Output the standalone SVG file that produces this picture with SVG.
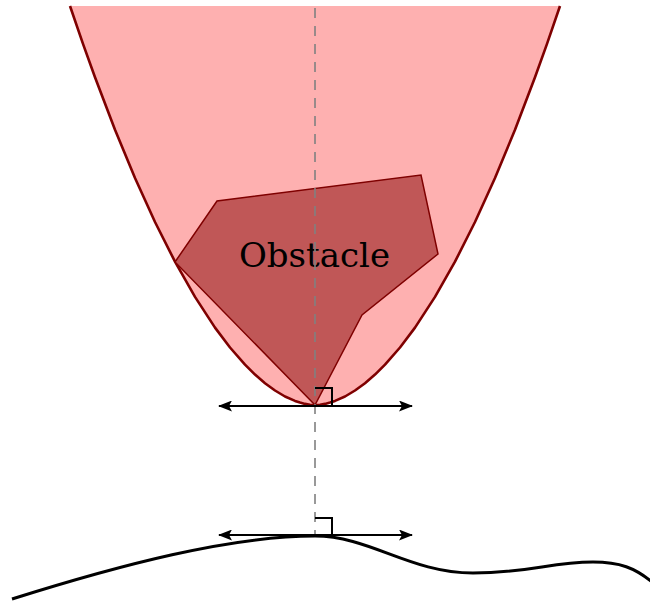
<svg xmlns="http://www.w3.org/2000/svg" width="650" height="602" viewBox="0 0 650 602">
<defs>
<style>
.region{fill:#feb0b0;stroke:none}
.parab{fill:none;stroke:#7f0000;stroke-width:2.6;stroke-linejoin:round}
.obst{fill:#c05757;stroke:#7f0000;stroke-width:1.5;stroke-linejoin:miter}
.axis{stroke:#808080;stroke-width:1.6;stroke-dasharray:10,8;fill:none}
.tan{stroke:#000;stroke-width:2.2;fill:none}
.ra{stroke:#000;stroke-width:2;fill:none}
.ground{stroke:#000;stroke-width:3;fill:none}
.lbl{font-family:"DejaVu Serif","Liberation Serif",serif;font-size:34px;fill:#000;text-anchor:middle}
</style>
<marker id="ah" viewBox="0 0 14 11" refX="13" refY="5.5" markerWidth="14" markerHeight="11" markerUnits="userSpaceOnUse" orient="auto-start-reverse">
<path d="M0,0 L14,5.5 L0,11 L3,5.5 z" fill="#000"/>
</marker>
</defs>
<g id="region">
<polygon class="region" points="70,6 83,43.9 95,77.3 115,129.8 135,178 155,222 175,261.7 195,296.9 215,327.6 230,347.5 245,364.7 255,374.6 265,383.2 275,390.5 285,396.5 295,400.9 300,402.6 305,403.9 310,404.7 315,405 320,404.7 325,403.9 330,402.6 335,400.9 345,396.5 355,390.5 365,383.2 375,374.6 385,364.7 400,347.5 415,327.6 435,296.9 455,261.7 475,222 495,178 515,129.8 535,77.3 547,43.9 560,6"/>
<polyline class="parab" points="70,6 83,43.9 95,77.3 115,129.8 135,178 155,222 175,261.7 195,296.9 215,327.6 230,347.5 245,364.7 255,374.6 265,383.2 275,390.5 285,396.5 295,400.9 300,402.6 305,403.9 310,404.7 315,405 320,404.7 325,403.9 330,402.6 335,400.9 345,396.5 355,390.5 365,383.2 375,374.6 385,364.7 400,347.5 415,327.6 435,296.9 455,261.7 475,222 495,178 515,129.8 535,77.3 547,43.9 560,6"/>
</g>
<g id="obstacle">
<polygon class="obst" points="175,262 217,201 421,175 438,254 362,315 315,405"/>
<text class="lbl" x="314.5" y="267">Obstacle</text>
</g>
<g id="ground">
<path class="ground" d="M12,599 C120,565 230,536 315,536 C370,536 410,573 473,573 C530,573 550,562 593,562 C620,562 635,568 652,582"/>
</g>
<g id="connectors">
<line class="axis" x1="315" y1="8" x2="315" y2="535"/>
<line class="tan" x1="219" y1="406" x2="412" y2="406" marker-start="url(#ah)" marker-end="url(#ah)"/>
<polyline class="ra" points="315,388 332,388 332,406"/>
<line class="tan" x1="219" y1="535" x2="412" y2="535" marker-start="url(#ah)" marker-end="url(#ah)"/>
<polyline class="ra" points="315,518 332,518 332,535"/>
</g>
</svg>
